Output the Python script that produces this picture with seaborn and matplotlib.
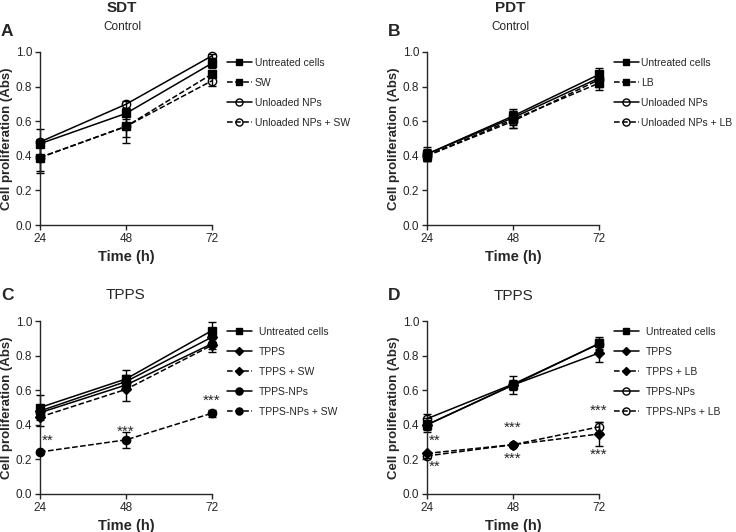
import numpy as np
import pandas as pd
import matplotlib
matplotlib.use("Agg")
import matplotlib.pyplot as plt
import seaborn as sns

# --- data ---
hours = [24, 48, 72]

# A: SDT control
a_labels = ["Untreated cells", "SW", "Unloaded NPs", "Unloaded NPs + SW"]
a_vals = [[0.47, 0.645, 0.935], [0.39, 0.57, 0.873], [0.48, 0.698, 0.978], [0.39, 0.57, 0.834]]
a_err = [[0.085, 0.03, 0.03], [0.08, 0.06, 0.02], [0.02, 0.02, 0.01], [0.09, 0.095, 0.03]]

# B: PDT control
b_labels = ["Untreated cells", "LB", "Unloaded NPs", "Unloaded NPs + LB"]
b_vals = [[0.41, 0.63, 0.87], [0.40, 0.61, 0.82], [0.41, 0.62, 0.85], [0.40, 0.60, 0.84]]
b_err = [[0.04, 0.04, 0.04], [0.03, 0.05, 0.04], [0.03, 0.04, 0.03], [0.03, 0.04, 0.04]]

# C: SDT TPPS
c_labels = ["Untreated cells", "TPPS", "TPPS + SW", "TPPS-NPs", "TPPS-NPs + SW"]
c_vals = [[0.50, 0.665, 0.945], [0.48, 0.65, 0.907], [0.445, 0.605, 0.86], [0.47, 0.63, 0.869], [0.243, 0.313, 0.467]]
c_err = [[0.07, 0.05, 0.05], [0.03, 0.04, 0.03], [0.05, 0.07, 0.04], [0.03, 0.03, 0.03], [0.01, 0.045, 0.02]]
c_stars = [("**", 24, 0.31), ("***", 48, 0.36), ("***", 72, 0.54)]

# D: PDT TPPS
d_labels = ["Untreated cells", "TPPS", "TPPS + LB", "TPPS-NPs", "TPPS-NPs + LB"]
d_vals = [[0.40, 0.63, 0.87], [0.40, 0.63, 0.815], [0.235, 0.285, 0.347], [0.435, 0.635, 0.868], [0.22, 0.285, 0.388]]
d_err = [[0.03, 0.05, 0.04], [0.04, 0.03, 0.05], [0.01, 0.01, 0.07], [0.03, 0.02, 0.03], [0.01, 0.01, 0.03]]
d_stars = [("**", 24, 0.31), ("**", 24, 0.155), ("***", 48, 0.38), ("***", 48, 0.205),
           ("***", 72, 0.48), ("***", 72, 0.228)]

# marker, linestyle, face colour per series
a_style = [("s", "-", "black"), ("s", "--", "black"), ("o", "-", "none"), ("o", "--", "none")]
c_style = [("s", "-", "black"), ("D", "-", "black"), ("D", "--", "black"), ("o", "-", "black"), ("o", "--", "black")]
d_style = [("s", "-", "black"), ("D", "-", "black"), ("D", "--", "black"), ("o", "-", "none"), ("o", "--", "none")]

sns.set_style("ticks")
plt.rcParams["font.family"] = ["Liberation Sans", "DejaVu Sans"]
plt.rcParams["axes.linewidth"] = 1.0


def draw_panel(ax, labels, vals, errs, styles, stars=None, textpad=0.3):
    for lab, v, e, (mk, ls, fc) in zip(labels, vals, errs, styles):
        ax.errorbar(hours, v, yerr=e, fmt="none", ecolor="black", elinewidth=1.0,
                    capsize=3, capthick=1.0, clip_on=False, zorder=2)
        ms = 6 if mk == "o" else (5 if mk == "D" else 5.3)
        sns.lineplot(x=hours, y=v, ax=ax, color="black", marker=mk, linestyle=ls,
                     markersize=ms, markerfacecolor=fc, markeredgecolor="black",
                     markeredgewidth=1.0, linewidth=1.1, label=lab, clip_on=False,
                     dashes=(3.5, 2) if ls == "--" else (None, None), zorder=3)
    if stars:
        for s, xv, yv in stars:
            ha = "left" if xv == 24 else "center"
            ax.text(xv + (0.6 if xv == 24 else 0), yv, s, ha=ha, va="center", fontsize=11)
    ax.set_xlim(24, 72)
    ax.set_ylim(0, 1.0)
    ax.set_xticks(hours)
    ax.set_yticks([0.0, 0.2, 0.4, 0.6, 0.8, 1.0])
    ax.set_yticklabels([f"{t:.1f}" for t in [0.0, 0.2, 0.4, 0.6, 0.8, 1.0]])
    ax.tick_params(labelsize=8.5, length=3.5, width=1.0, pad=2)
    ax.set_xlabel("Time (h)", fontsize=10.5, fontweight="bold", labelpad=4)
    ax.set_ylabel("Cell proliferation (Abs)", fontsize=9.5, fontweight="bold", labelpad=2)
    sns.despine(ax=ax)
    leg = ax.legend(loc="upper left", bbox_to_anchor=(1.085, 0.965), frameon=False,
                    fontsize=7.5, handlelength=2.4, handletextpad=textpad, markerscale=0.85,
                    labelspacing=0.95, borderaxespad=0, borderpad=0)
    return leg


fig = plt.figure(figsize=(7.36, 5.32), dpi=100)
W, H = 736, 532
ax_a = fig.add_axes([40 / W, (H - 225) / H, 172 / W, 173 / H])
ax_b = fig.add_axes([427 / W, (H - 225) / H, 172 / W, 173 / H])
ax_c = fig.add_axes([40 / W, (H - 494) / H, 172 / W, 173 / H])
ax_d = fig.add_axes([427 / W, (H - 494) / H, 172 / W, 173 / H])

draw_panel(ax_a, a_labels, a_vals, a_err, a_style, textpad=0.3)
draw_panel(ax_b, b_labels, b_vals, b_err, a_style, textpad=0.2)
draw_panel(ax_c, c_labels, c_vals, c_err, c_style, c_stars, textpad=0.7)
draw_panel(ax_d, d_labels, d_vals, d_err, d_style, d_stars, textpad=0.7)


def ftext(x, y, s, **kw):
    fig.text(x / W, 1 - y / H, s, ha="center", va="center", **kw)


ftext(122, 8, "SDT", fontsize=11, fontweight="bold")
ftext(122, 27, "Control", fontsize=8.5)
ftext(510, 8, "PDT", fontsize=11, fontweight="bold")
ftext(510, 27, "Control", fontsize=8.5)
ftext(125, 295, "TPPS", fontsize=11)
ftext(513, 296, "TPPS", fontsize=11)
ftext(7, 32, "A", fontsize=12.5, fontweight="bold")
ftext(394, 32, "B", fontsize=12.5, fontweight="bold")
ftext(7, 295, "C", fontsize=12.5, fontweight="bold")
ftext(394, 296, "D", fontsize=12.5, fontweight="bold")

fig.savefig("out.png", dpi=100)
